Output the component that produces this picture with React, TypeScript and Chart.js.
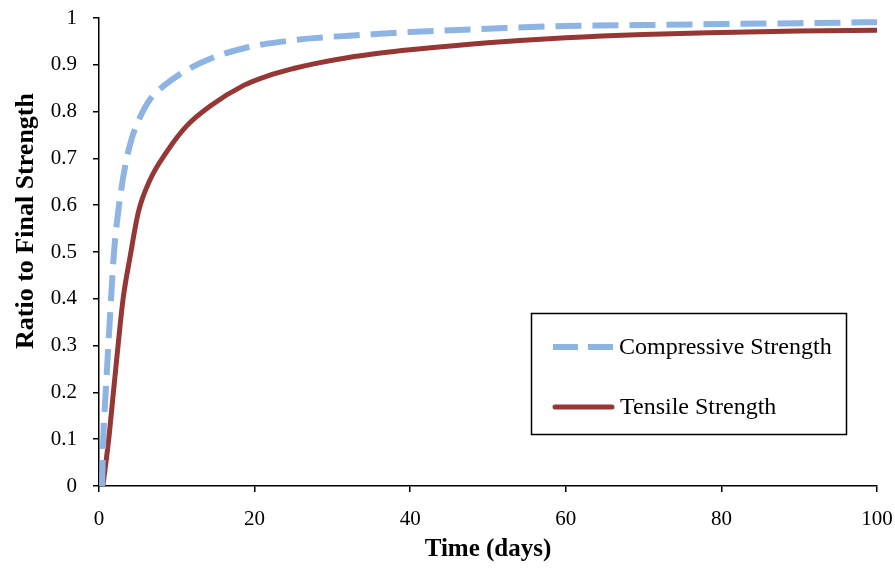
import React, { useEffect, useRef } from "react";
import { Chart, registerables } from "chart.js";

Chart.register(...registerables);

const compressiveDays = [0.4, 0.55, 0.86, 1.2, 1.55, 1.93, 2.5, 3.35, 4.2, 5.3, 6.55, 8.4, 11.3, 14.3, 19, 23.3, 27.6, 34, 40, 50, 60, 70, 80, 90, 100];
const compressiveRatio = [0, 0.1, 0.2, 0.3, 0.4, 0.5, 0.59, 0.682, 0.742, 0.789, 0.826, 0.856, 0.889, 0.913, 0.937, 0.949, 0.957, 0.964, 0.97, 0.977, 0.983, 0.985, 0.987, 0.989, 0.991];

const tensileDays = [0.5, 1.25, 1.85, 2.45, 3.1, 4.0, 5.07, 6.55, 8.7, 11.3, 14.3, 18.6, 21.8, 25, 27.6, 31.9, 36.2, 40, 50, 60, 70, 80, 90, 100];
const tensileRatio = [0, 0.1, 0.2, 0.3, 0.4, 0.49, 0.586, 0.654, 0.714, 0.77, 0.812, 0.856, 0.877, 0.892, 0.902, 0.915, 0.925, 0.932, 0.947, 0.958, 0.965, 0.969, 0.972, 0.974];

const xTickLabels = ["0", "20", "40", "60", "80", "100"];
const yTickLabels = ["0", "0.1", "0.2", "0.3", "0.4", "0.5", "0.6", "0.7", "0.8", "0.9", "1"];

const seriesNames = ["Compressive Strength", "Tensile Strength"];
const xTitle = "Time (days)";
const yTitle = "Ratio to Final Strength";
const blue = "#8DB4E2";
const red = "#953735";
const FONT = "'Liberation Serif', 'Times New Roman', serif";

const legendPlugin = {
  id: "boxLegend",
  afterDraw(chart: any) {
    const ctx = chart.ctx;
    ctx.save();
    ctx.strokeStyle = "#000";
    ctx.lineWidth = 1.5;
    ctx.setLineDash([]);
    ctx.strokeRect(531.5, 313.5, 315, 121);

    ctx.lineWidth = 6;
    ctx.strokeStyle = blue;
    ctx.setLineDash([25, 10]);
    ctx.beginPath();
    ctx.moveTo(553, 347);
    ctx.lineTo(613, 347);
    ctx.stroke();

    ctx.setLineDash([]);
    ctx.lineWidth = 5;
    ctx.strokeStyle = red;
    ctx.lineCap = "round";
    ctx.beginPath();
    ctx.moveTo(555, 407);
    ctx.lineTo(612, 407);
    ctx.stroke();

    ctx.fillStyle = "#000";
    ctx.font = `24px ${FONT}`;
    ctx.textBaseline = "middle";
    ctx.textAlign = "left";
    ctx.fillText(seriesNames[0], 619, 348);
    ctx.fillText(seriesNames[1], 620, 408);

    // y axis title
    ctx.translate(26, 221);
    ctx.rotate(-Math.PI / 2);
    ctx.font = `bold 26px ${FONT}`;
    ctx.textAlign = "center";
    ctx.fillText(yTitle, 0, 0);
    ctx.restore();
  },
};

export default function App() {
  const ref = useRef<HTMLCanvasElement>(null);
  useEffect(() => {
    if (!ref.current) return;
    const chart = new Chart(ref.current, {
      type: "line",
      data: {
        datasets: [
          {
            label: seriesNames[0],
            data: compressiveDays.map((d, i) => ({ x: d, y: compressiveRatio[i] })),
            borderColor: blue,
            borderWidth: 6,
            borderDash: [26, 11],
            pointRadius: 0,
            cubicInterpolationMode: "monotone",
            fill: false,
            clip: 10,
          },
          {
            label: seriesNames[1],
            data: tensileDays.map((d, i) => ({ x: d, y: tensileRatio[i] })),
            borderColor: red,
            borderWidth: 5,
            pointRadius: 0,
            cubicInterpolationMode: "monotone",
            fill: false,
            clip: 10,
          },
        ],
      },
      options: {
        responsive: false,
        animation: false,
        layout: { padding: { top: 18, right: 18, left: 0, bottom: 0 } },
        plugins: { legend: { display: false }, tooltip: { enabled: false } },
        scales: {
          x: {
            type: "linear",
            min: 0,
            max: 100,
            afterFit: (s: any) => {
              s.height = 82;
              s.paddingLeft = 0;
              s.paddingRight = 0;
            },
            ticks: {
              stepSize: 20,
              color: "#000",
              font: { family: FONT, size: 21 },
              padding: 15,
              maxRotation: 0,
              callback: (_v: any, i: number) => xTickLabels[i],
            },
            grid: { display: true, drawOnChartArea: false, drawTicks: true, tickLength: 6, color: "#000", lineWidth: 1.5 },
            border: { display: true, color: "#000", width: 1.5 },
            title: {
              display: true,
              text: xTitle,
              color: "#000",
              font: { family: FONT, size: 25, weight: "bold" },
              padding: { top: 0, bottom: 3 },
            },
          },
          y: {
            type: "linear",
            min: 0,
            max: 1,
            afterFit: (s: any) => {
              s.width = 99;
              s.paddingTop = 0;
              s.paddingBottom = 0;
            },
            ticks: {
              stepSize: 0.1,
              color: "#000",
              font: { family: FONT, size: 21 },
              padding: 16,
              callback: (_v: any, i: number) => yTickLabels[i],
            },
            grid: { display: true, drawOnChartArea: false, drawTicks: true, tickLength: 6, color: "#000", lineWidth: 1.5 },
            border: { display: true, color: "#000", width: 1.5 },
            title: { display: false },
          },
        },
      },
      plugins: [legendPlugin],
    } as any);
    return () => chart.destroy();
  }, []);
  return (
    <div style={{ position: "absolute", left: 0, top: 0, width: 895, height: 568, background: "#fff" }}>
      <canvas ref={ref} width={895} height={568} style={{ display: "block" }} />
    </div>
  );
}
